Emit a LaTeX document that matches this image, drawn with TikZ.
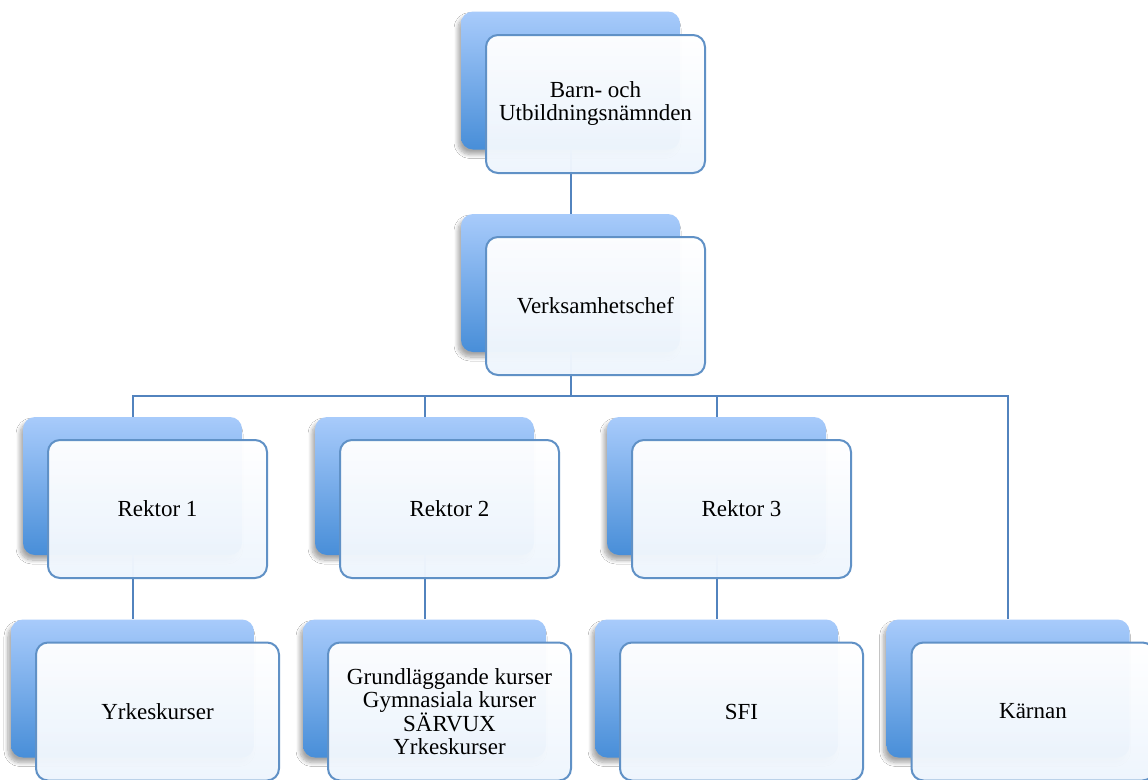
\documentclass[tikz,border=0pt]{standalone}
\usepackage{fontspec}
\setmainfont{Liberation Serif}
\usetikzlibrary{shadows.blur}
\definecolor{backtop}{RGB}{168,203,251}
\definecolor{backbot}{RGB}{72,142,216}
\definecolor{frontbot}{RGB}{238,245,253}
\definecolor{edgeblue}{RGB}{96,145,198}
\definecolor{lineblue}{RGB}{82,131,190}
\tikzset{
  backbox/.style={rounded corners=12pt, minimum width=219pt, minimum height=138pt,
    top color=backtop, bottom color=backbot, draw=none,
    blur shadow={shadow xshift=-3pt, shadow yshift=-5pt, shadow blur steps=8, shadow blur radius=4pt, shadow opacity=35}},
  frontbox/.style={rounded corners=12pt, minimum width=219pt, minimum height=138pt,
    top color=white, bottom color=frontbot, draw=edgeblue, line width=2pt,
    fill opacity=0.97, draw opacity=1, text opacity=1, align=center,
    font=\fontsize{23}{23}\selectfont},
  wide/.style={minimum width=243pt},
  conn/.style={draw=lineblue, line width=2pt}
}
\begin{document}
\begin{tikzpicture}[x=1pt,y=-1pt]
\useasboundingbox (0,0) rectangle (1148,779);
\clip (0,0) rectangle (1148,779);
\fill[white] (0,0) rectangle (1148,779);
% back boxes
\node[backbox] (topB) at (570.5,80.5) {};
\node[backbox] (verkB) at (570.5,283) {};
\node[backbox] (r1B) at (132.5,486) {};
\node[backbox] (r2B) at (424.5,486) {};
\node[backbox] (r3B) at (716.5,486) {};
\node[backbox,wide] (yB) at (132.5,688.5) {};
\node[backbox,wide] (gB) at (424.5,688.5) {};
\node[backbox,wide] (sB) at (716.5,688.5) {};
\node[backbox,wide] (kB) at (1008,688.5) {};
% connectors
\coordinate (bus) at (570.5,396);
\draw[conn] (topB.south) -- (verkB.north);
\draw[conn] (verkB.south) -- (bus);
\draw[conn] (bus) -| (r1B.north);
\draw[conn] (bus) -| (r2B.north);
\draw[conn] (bus) -| (r3B.north);
\draw[conn] (bus) -| (kB.north);
\draw[conn] (r1B.south) -- (yB.north);
\draw[conn] (r2B.south) -- (gB.north);
\draw[conn] (r3B.south) -- (sB.north);
% front boxes
\node[frontbox] (topF) at (595.5,104) {Barn- och\\Utbildningsnämnden};
\node[frontbox] (verkF) at (595.5,306) {Verksamhetschef};
\node[frontbox] (r1F) at (157.5,509) {Rektor 1};
\node[frontbox] (r2F) at (449.5,509) {Rektor 2};
\node[frontbox] (r3F) at (741.5,509) {Rektor 3};
\node[frontbox,wide] (yF) at (157.5,711.5) {Yrkeskurser};
\node[frontbox,wide] (gF) at (449.5,711.5) {Grundläggande kurser\\Gymnasiala kurser\\SÄRVUX\\Yrkeskurser};
\node[frontbox,wide] (sF) at (741.5,711.5) {SFI};
\node[frontbox,wide] (kF) at (1033,711.5) {Kärnan};
\end{tikzpicture}
\end{document}
